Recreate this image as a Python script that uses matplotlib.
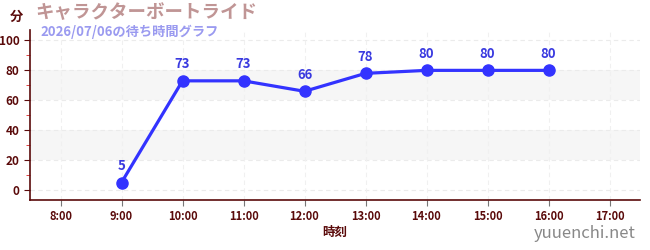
import matplotlib
matplotlib.use("Agg")
import matplotlib.pyplot as plt
from matplotlib.ticker import MultipleLocator

plt.rcParams['font.family'] = ['Noto Sans CJK JP', 'DejaVu Sans']

hours = [9, 10, 11, 12, 13, 14, 15, 16]
waits = [5, 73, 73, 66, 78, 80, 80, 80]
xticks = list(range(8, 18))
xlabels = [f"{h}:00" for h in xticks]
yticks = [0, 20, 40, 60, 80, 100]
title = "キャラクターボートライド"
subtitle = "2026/07/06の待ち時間グラフ"

dark = '#5a0a0a'
fig = plt.figure(figsize=(6.5, 2.5), dpi=100)
ax = fig.add_axes([30/650, 50/250, 610/650, 170/250])
ax.set_xlim(7.5, 17.5)
ax.set_ylim(-6.7, 107)

for lo, hi in [(20, 40), (60, 80)]:
    ax.axhspan(lo, hi, color='#f6f6f6', zorder=0, lw=0)
for y in yticks:
    ax.axhline(y, color='#ebebeb', lw=0.8, ls=(0, (4, 3)), zorder=0.5)
for x in xticks:
    ax.axvline(x, color='#f0f0f0', lw=0.8, ls=(0, (4, 3)), zorder=0.5)

line_color = '#3333ff'
ax.plot(hours, waits, color=line_color, lw=2.3, marker='o', ms=8, zorder=3)
for h, w in zip(hours, waits):
    ax.annotate(str(w), (h, w), xytext=(0, 7), textcoords='offset points',
                ha='center', va='bottom', color='#3a3ae0', fontsize=9.5, fontweight='bold')

ax.set_xticks(xticks)
ax.set_xticklabels(xlabels)
ax.set_yticks(yticks)
ax.yaxis.set_minor_locator(MultipleLocator(10))
ax.tick_params(axis='y', which='minor', colors='#dd2222', length=3)
ax.tick_params(axis='y', which='major', colors=dark, labelcolor=dark, labelsize=8.5, length=4)
ax.tick_params(axis='x', which='major', colors='#777777', labelcolor=dark, labelsize=8, length=4)
for lab in ax.get_xticklabels() + ax.get_yticklabels():
    lab.set_fontweight('bold')
for s in ['top', 'right']:
    ax.spines[s].set_visible(False)
for s in ['left', 'bottom']:
    ax.spines[s].set_color(dark)
    ax.spines[s].set_linewidth(1.2)

ax.set_xlabel("時刻", color=dark, fontsize=9, fontweight='bold', labelpad=2)

fig.text(10/650, 1 - 17/250, "分", color=dark, fontsize=9.5, fontweight='bold', va='center', ha='left')
fig.text(35/650, 1 - 13/250, title, color='#c09595', fontsize=13.3, fontweight='bold', va='center', ha='left')
fig.text(40/650, 1 - 32/250, subtitle, color='#9a9af0', fontsize=9.5, fontweight='bold', va='center', ha='left')
fig.text(636/650, 1 - 234/250, "yuuenchi.net", color='#888888', fontsize=12, va='center', ha='right')

fig.savefig("out.png", dpi=100)
